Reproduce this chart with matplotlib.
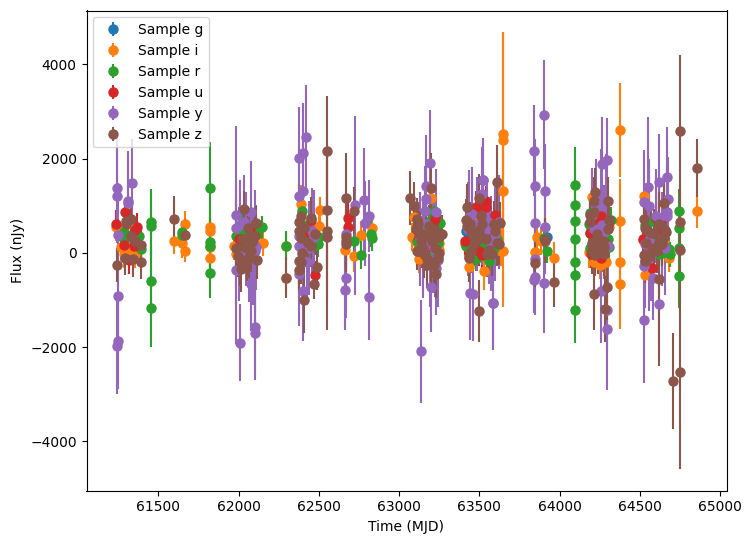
import matplotlib
matplotlib.use('Agg')
import matplotlib.pyplot as plt

bands = ['g', 'i', 'r', 'u', 'y', 'z']

time_g = [61310, 62040, 62480, 63240, 63415, 63520, 63923, 64270, 64600]
flux_g = [350, 300, 186, 250, 469, 300, 327, 420, 150]
err_g = [250, 220, 240, 260, 240, 260, 180, 250, 230]

time_i = [61234, 61286, 61358, 61307, 61317, 61270, 61597, 61664, 61664, 61645, 61822, 61822, 61822, 61822,
          61971, 61982, 62023, 62152, 62010, 62090, 62293, 62293, 62391, 62507, 62501, 62663, 62719, 62763, 62833,
          63094, 63201, 63082, 63249, 63160, 63100, 63125, 63250, 63230,
          63425, 63435, 63529, 63615, 63633, 63410, 63600, 63470, 63560, 63647, 63647, 63647, 63647,
          63861, 63847, 63965, 63885, 64204, 64183, 64214, 64251, 64272, 64230, 64240, 64290, 64195, 64310,
          64375, 64375, 64375, 64375,
          64525, 64521, 64535, 64600, 64650, 64560, 64620, 64680, 64580, 64859]
flux_i = [554, -27, -27, 611, 44, 130, 256, 611, 44, 200, 540, 469, 115, -112,
          150, -27, -27, 207, 90, 10, 150, -540, 1036, 909, 576, 58, -63, 377, 519,
          760, 1164, 330, 220, 450, 250, -130, 60, -200,
          150, -297, -382, 420, 30, 180, 560, 680, 20, 2525, 2398, 1313, 37,
          342, 23, -112, 250, 1178, 9, -190, -261, -98, 300, -120, -200, 530, 550,
          2610, 675, -197, -665,
          1200, 278, -474, 100, 250, 190, 300, -110, -10, 888]
err_i = [300, 300, 300, 300, 280, 300, 290, 280, 230, 300, 400, 400, 400, 400,
         300, 300, 300, 280, 300, 300, 300, 320, 400, 283, 400, 350, 350, 300, 300,
         350, 300, 300, 280, 300, 300, 300, 300, 300,
         300, 320, 400, 300, 300, 300, 300, 300, 300, 2155, 2282, 1100, 1177,
         350, 300, 350, 300, 350, 320, 300, 300, 300, 300, 300, 300, 300, 300,
         1000, 900, 900, 957,
         350, 350, 350, 300, 280, 300, 300, 300, 300, 350]

time_r = [61452, 61452, 61452, 61452, 61286, 61379, 61390, 61307, 61270, 61650, 61650,
          61822, 61822, 61822, 61822, 61985, 62003, 62027, 62148, 62117, 62060,
          62000, 62020, 62050, 62080, 62100, 62293,
          62397, 62480, 62449, 62501, 62400, 62430, 62465, 62495, 62719, 62763, 62827, 62829,
          63217, 63255, 63115, 63176, 63140, 63220, 63130, 63160, 63185, 63215, 63240, 63150, 63200,
          63470, 63560, 63490, 63420, 63440, 63480, 63510, 63530, 63570, 63590, 63450, 63610,
          63903, 63919, 64096, 64096, 64096, 64096, 64096, 64096, 64096,
          64190, 64200, 64250, 64300, 64320, 64185, 64190, 64210, 64240, 64270, 64310, 64190,
          64681, 64560, 64630, 64660, 64590, 64620, 64640, 64670, 64650, 64690, 64530,
          64743, 64743, 64743, 64743]
flux_r = [646, 576, -594, -1176, 434, 349, 79, 350, 350, 434, 370,
          1377, 221, 150, -417, 350, 550, 280, 540, 398, 200,
          480, 620, 410, 300, 470, 136,
          895, 256, 292, 327, 600, 350, 140, 180, 256, -41, 398, 313,
          895, 632, 256, 115, 350, 500, 450, 100, 300, -50, 200, 600, 700,
          -27, -169, 330, 150, 100, -120, 100, 250, 520, 100, 500, 300,
          306, 37, 1434, 1015, 675, 292, -197, -474, -1218,
          420, 160, 600, 300, 700, 620, 850, 300, 550, 680, 120, 110,
          79, 650, 300, 120, 370, -30, -10, 110, 420, -30, 600,
          880, 526, 100, -495]
err_r = [710, 710, 770, 825, 260, 260, 250, 250, 250, 250, 250,
         970, 550, 550, 546, 260, 260, 250, 240, 260, 260,
         260, 260, 260, 260, 260, 333,
         300, 260, 260, 250, 260, 260, 260, 260, 250, 300, 280, 280,
         260, 260, 260, 260, 260, 260, 260, 260, 260, 260, 260, 260, 260,
         250, 260, 250, 250, 260, 260, 260, 260, 260, 260, 260, 260,
         260, 250, 808, 800, 800, 700, 700, 700, 688,
         280, 280, 280, 280, 280, 280, 280, 280, 280, 280, 280, 280,
         240, 260, 240, 240, 260, 260, 260, 260, 260, 260, 260,
         475, 500, 500, 666]

time_u = [61234, 61292, 61286, 61348, 61369, 61354, 61317, 62000, 62070, 62030, 62090,
          62449, 62476, 62430, 62682, 62682, 63118, 63160, 63210, 63125, 63175, 63225, 63190,
          63477, 63539, 63543, 63430, 63500, 63470, 63410, 63440, 63480, 63520, 63560, 63600, 63590,
          64190, 64210, 64260, 64300, 64225, 64195, 64235, 64285, 64260,
          64577, 64577, 64660, 64610, 64520, 64600, 64640, 64560]
flux_u = [611, 859, 164, 150, 540, 483, -155, 300, 500, 100, 240,
          690, -474, 450, 739, 554, 50, 300, 580, 330, 120, 720, 380,
          966, 966, 1107, 560, 40, 430, 250, 660, 350, -50, 400, 800, 300,
          420, 120, 780, 600, 680, -20, 430, 200, -100,
          90, -311, 770, 420, 300, 750, 100, -60]
err_u = [300, 280, 280, 280, 300, 280, 300, 280, 280, 280, 280,
         300, 300, 280, 400, 400, 300, 300, 300, 300, 300, 300, 300,
         350, 320, 320, 300, 320, 300, 300, 300, 300, 300, 300, 300, 300,
         320, 300, 340, 320, 300, 300, 300, 300, 300,
         320, 300, 300, 300, 300, 300, 300, 300]

time_y = [61242, 61242, 61248, 61248, 61242, 61248, 61311, 61311, 61338,
          61982, 61986, 61982, 62007, 62037, 62007, 62075, 62079, 62100, 62100, 62100, 62106,
          62045, 62090, 62065, 62005,
          62376, 62376, 62403, 62420, 62376, 62376, 62376, 62403, 62459, 62424, 62403, 62440, 62470,
          62725, 62671, 62663, 62781, 62812, 62785, 62812, 62667,
          63136, 63190, 63165, 63165, 63161, 63230, 63228, 63201, 63226, 63197, 63150,
          63130, 63170, 63210, 63240, 63195, 63150,
          63442, 63462, 63523, 63520, 63435, 63585, 63457, 63560, 63525, 63583,
          63430, 63455, 63485, 63515, 63545, 63575, 63600, 63620,
          63903, 63840, 63847, 63909, 63847, 63909, 63847, 63847, 63840, 63903,
          64266, 64293, 64256, 64293, 64297, 64265, 64200, 64230, 64260, 64290, 64215, 64280, 64300,
          64525, 64560, 64525, 64534, 64525, 64618, 64670, 64677, 64670, 64670, 64618, 64618, 64556, 64583, 64552,
          64600, 64640, 64530, 64570, 64655]
flux_y = [1377, 1207, -920, -1870, -1984, 384, 1107, 1050, 1483,
          802, 526, -367, -1906, 646, 590, 859, -665, -1573, -1707, 44, 115,
          300, -100, -50, -20,
          1207, 2015, 2121, 2469, 364, 150, -453, 1320, 469, -204, -807, 100, 330,
          1015, -523, -793, 1122, 788, 632, -934, 400,
          -2090, 1908, 1426, 1143, 895, 873, -311, -722, 60, 480, 200,
          300, 620, 140, -150, -150, 50,
          -857, -878, 1547, 1250, 753, -1069, 600, 250, 1547, -1069,
          500, 830, 620, 740, 500, 200, 400, 650,
          2930, 2164, 1419, 1313, 632, 554, -133, -509, -580, -644,
          1887, 1972, -807, -1622, -1218, 600, 800, 1000, 1200, 1100, 500, 450, 150,
          1086, 1001, -275, -180, -1431, 1512, 1618, 1143, 859, 790, -1091, 750, 270, -523, 1390,
          790, 300, 180, -30, 100]
err_y = [1050, 1000, 1100, 1020, 1020, 1100, 1050, 1050, 936,
         1900, 900, 1575, 815, 1000, 950, 1100, 1000, 1000, 1000, 1280, 900,
         1000, 1000, 1000, 1000,
         1100, 1090, 1050, 1100, 1100, 1100, 1100, 1100, 900, 900, 1063, 1000, 1000,
         1900, 850, 850, 1105, 760, 900, 910, 850,
         1090, 1114, 1085, 1000, 950, 900, 1000, 950, 1000, 1000, 1000,
         1000, 1000, 1000, 1000, 1000, 1000,
         1000, 1000, 850, 1000, 1000, 1000, 1000, 900, 900, 1000,
         1000, 1000, 1000, 1000, 1000, 1000, 1000, 1000,
         1155, 965, 1000, 1000, 1000, 1000, 850, 800, 690, 1050,
         1000, 890, 1100, 1280, 900, 1000, 1000, 1000, 1000, 1000, 1000, 1000, 1000,
         1100, 1000, 1000, 1000, 1326, 1000, 1060, 900, 1000, 1000, 1000, 900, 1500, 900, 1500,
         1000, 1000, 1000, 1000, 1000]

time_z = [61242, 61296, 61327, 61292, 61331, 61358, 61390, 61394, 61296, 61340,
          61597, 61666,
          62034, 62110, 61986, 62007, 62017, 62058, 62023, 62065, 62102, 62065, 62112, 62055,
          62040, 62075, 61995, 62050, 62085, 62293,
          62376, 62376, 62387, 62391, 62397, 62376, 62376, 62387, 62449, 62476, 62486, 62470, 62407,
          62430, 62450, 62410, 62549, 62549, 62549, 62549,
          62671, 62719, 62667, 62667, 62667,
          63068, 63093, 63113, 63103, 63113, 63124, 63109, 63155, 63176, 63197, 63232, 63249, 63201, 63207, 63217, 63269, 63249,
          63120, 63135, 63145, 63165, 63185, 63205, 63225, 63240, 63175, 63215, 63255, 63130,
          63425, 63500, 63608, 63498, 63435, 63425, 63470, 63510, 63594, 63612, 63550, 63510, 63450,
          63420, 63440, 63460, 63480, 63500, 63520, 63540, 63560, 63580, 63600, 63620, 63630, 63450,
          63847, 63909, 63965, 63909,
          64214, 64224, 64303, 64214, 64189, 64235, 64224, 64276, 64214, 64293, 64283, 64240, 64265,
          64200, 64220, 64240, 64260, 64280, 64200, 64220, 64250, 64270, 64300, 64310, 64190,
          64525, 64531, 64540, 64525, 64566, 64618, 64650, 64664, 64618, 64618, 64587, 64639,
          64540, 64570, 64590, 64640, 64650, 64660, 64610, 64530,
          64749, 64749, 64749, 64749, 64706, 64859]
flux_z = [-254, 682, 717, -119, 363, 257, 171, -204, 610, -130,
          717, 377,
          930, 625, 100, -204, -332, 526, 292, 330, 363, -77, -148, 100,
          130, 50, -60, -150, 230, -523,
          647, 469, 306, 788, 8, -169, -360, -200, 739, 398, -289, -665, -1006,
          200, 150, 530, 2164, 909, 469, 341,
          1164, 895, 327, 256, 186,
          1164, 1001, 540, 500, 720, 400, 30, -27, -254, -204, -453, -13, 1377, 242, 505, 398, 327,
          620, 260, 120, 380, 560, 420, 100, -100, -120, -260, 380, 430,
          966, 1164, 1511, -1232, -119, 575, 185, 790, 610, 220, -20, 330, 470,
          700, 620, 350, 260, 490, 620, 300, 70, -30, 470, 190, 640, 30,
          -218, 257, -623, 300,
          1107, 1300, 1107, 859, 647, 398, 115, 115, -878, -722, -1197, 50, 230,
          200, 250, 30, 120, -30, 10, -50, 220, 260, 500, 700, 800,
          717, 526, 207, -49, -49, 611, 1058, 448, 221, -559, 430, 260,
          480, 430, 110, 180, 340, 490, 30, -180,
          2596, 654, 65, -2530, -2721, 1809]
err_z = [360, 400, 400, 350, 400, 400, 380, 350, 400, 380,
         497, 350,
         375, 380, 400, 500, 500, 450, 450, 450, 400, 450, 400, 420,
         450, 450, 450, 450, 450, 426,
         450, 450, 450, 450, 500, 500, 500, 450, 450, 400, 500, 320, 700,
         450, 450, 450, 1155, 1200, 1500, 1978,
         957, 500, 600, 600, 600,
         580, 500, 450, 450, 450, 450, 400, 500, 500, 450, 500, 450, 745, 500, 450, 400, 450,
         450, 450, 450, 450, 450, 450, 450, 450, 450, 450, 450, 450,
         500, 500, 770, 650, 500, 500, 450, 500, 500, 500, 500, 450, 450,
         450, 450, 450, 450, 450, 450, 450, 450, 450, 450, 450, 450, 450,
         500, 480, 520, 450,
         500, 500, 500, 500, 500, 500, 500, 500, 750, 700, 700, 500, 500,
         450, 450, 450, 450, 450, 450, 450, 450, 450, 450, 450, 450,
         450, 500, 500, 500, 450, 500, 500, 500, 1080, 1843, 500, 500,
         450, 450, 450, 450, 450, 450, 450, 450,
         1596, 700, 800, 2049, 1014, 617]

times = [time_g, time_i, time_r, time_u, time_y, time_z]
fluxes = [flux_g, flux_i, flux_r, flux_u, flux_y, flux_z]
errors = [err_g, err_i, err_r, err_u, err_y, err_z]

fig = plt.figure(figsize=(7.51, 5.43), dpi=100)
ax = fig.add_axes([86.5 / 751, 52.5 / 543, 640 / 751, 480 / 543])

for band, t, f, e in zip(bands, times, fluxes, errors):
    ax.errorbar(t, f, yerr=e, fmt='o', markersize=6.5, label='Sample {}'.format(band))

ax.set_xlabel('Time (MJD)')
ax.set_ylabel('Flux (nJy)')
ax.legend(loc='upper left')

fig.savefig('out.png', dpi=100)
